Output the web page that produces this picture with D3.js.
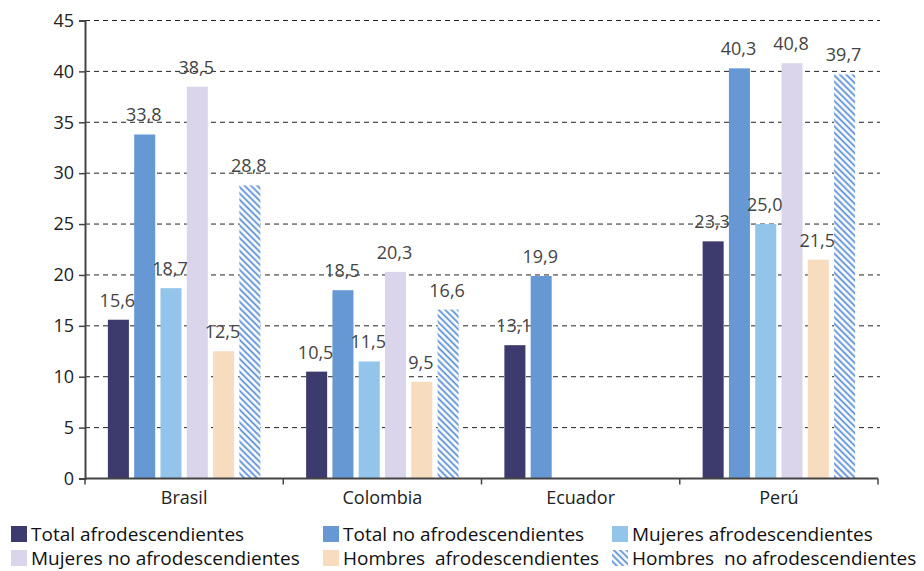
<!DOCTYPE html>
<html>
<head>
<meta charset="utf-8">
<script src="https://cdn.jsdelivr.net/npm/d3@7"></script>
<style>
  html, body { margin: 0; padding: 0; background: #fff; }
  svg text { font-family: "Open Sans", "Noto Sans", sans-serif; white-space: pre; }
</style>
</head>
<body>
<svg id="chart" width="924" height="571"></svg>
<script>
// Countries on the x axis
const countries = ["Brasil", "Colombia", "Ecuador", "Perú"];

// Series names (legend order)
const seriesNames = [
  "Total afrodescendientes",
  "Total no afrodescendientes",
  "Mujeres afrodescendientes",
  "Mujeres no afrodescendientes",
  "Hombres  afrodescendientes",
  "Hombres  no afrodescendientes"
];

// Values per series, one entry per country (null = no data)
const totalAfro      = [15.6, 10.5, 13.1, 23.3];
const totalNoAfro    = [33.8, 18.5, 19.9, 40.3];
const mujeresAfro    = [18.7, 11.5, null, 25.0];
const mujeresNoAfro  = [38.5, 20.3, null, 40.8];
const hombresAfro    = [12.5,  9.5, null, 21.5];
const hombresNoAfro  = [28.8, 16.6, null, 39.7];

const yTicks = [0, 5, 10, 15, 20, 25, 30, 35, 40, 45];

const seriesValues = [totalAfro, totalNoAfro, mujeresAfro, mujeresNoAfro, hombresAfro, hombresNoAfro];
const fills = ["#3d3a6e", "#6699d3", "#93c5eb", "#dad5ea", "#f7dcc0", "url(#hatch)"];

const svg = d3.select("#chart");

// Diagonal hatch for the last series
const defs = svg.append("defs");
const pat = defs.append("pattern")
  .attr("id", "hatch")
  .attr("patternUnits", "userSpaceOnUse")
  .attr("width", 4.5).attr("height", 4.5)
  .attr("patternTransform", "rotate(-45)");
pat.append("rect").attr("width", 4.5).attr("height", 4.5).attr("fill", "#fff");
pat.append("line").attr("x1", 1.2).attr("y1", 0).attr("x2", 1.2).attr("y2", 4.5)
  .attr("stroke", "#5b8fd6").attr("stroke-width", 1.8);

const plotLeft = 85, plotRight = 878, plotTop = 20.5, plotBottom = 478.5;

const x0 = d3.scaleBand().domain(countries).range([plotLeft, plotRight]).padding(0);
const x1 = d3.scaleBand().domain(d3.range(seriesNames.length))
  .range([0, x0.bandwidth()]).paddingInner(0.2).paddingOuter(0.87);
const y = d3.scaleLinear().domain([0, 45]).range([plotBottom, plotTop]);

// Dashed gridlines
svg.append("g").selectAll("line")
  .data(yTicks.filter(t => t > 0))
  .join("line")
  .attr("x1", plotLeft).attr("x2", plotRight + 2)
  .attr("y1", d => y(d)).attr("y2", d => y(d))
  .attr("stroke", "#222").attr("stroke-width", 1)
  .attr("stroke-dasharray", "5,4");

// Bars
const rows = [];
countries.forEach((c, ci) => {
  seriesValues.forEach((vals, si) => {
    if (vals[ci] != null) rows.push({ c, si, v: vals[ci] });
  });
});

svg.append("g").selectAll("rect")
  .data(rows)
  .join("rect")
  .attr("x", d => x0(d.c) + x1(d.si))
  .attr("y", d => y(d.v))
  .attr("width", x1.bandwidth())
  .attr("height", d => y(0) - y(d.v))
  .attr("fill", d => fills[d.si]);

// Value labels
const fmt = v => d3.format(".1f")(v).replace(".", ",");
svg.append("g").selectAll("text")
  .data(rows)
  .join("text")
  .attr("x", d => x0(d.c) + x1(d.si) + x1.bandwidth() / 2 - 1)
  .attr("y", d => y(d.v) - 13)
  .attr("text-anchor", "middle")
  .attr("font-size", 18)
  .attr("fill", "#444")
  .text(d => fmt(d.v));

// Y axis
const yAxis = d3.axisLeft(y).tickValues(yTicks).tickSize(6).tickPadding(5);
const gy = svg.append("g").attr("transform", `translate(${plotLeft},0)`).call(yAxis);
gy.select(".domain").attr("stroke", "#444").attr("stroke-width", 2);
gy.selectAll(".tick line").attr("stroke", "#444").attr("stroke-width", 1.5);
gy.selectAll(".tick text").attr("font-size", 18).attr("fill", "#222")
  .attr("font-family", "'Open Sans', sans-serif");

// X axis with boundary ticks
const gx = svg.append("g");
gx.append("line").attr("x1", plotLeft).attr("x2", plotRight)
  .attr("y1", plotBottom).attr("y2", plotBottom)
  .attr("stroke", "#444").attr("stroke-width", 2);
const bounds = countries.map(c => x0(c)).concat([plotRight]);
gx.selectAll("line.b").data(bounds).join("line").attr("class", "b")
  .attr("x1", d => d).attr("x2", d => d)
  .attr("y1", plotBottom).attr("y2", plotBottom + 6)
  .attr("stroke", "#444").attr("stroke-width", 1.5);
gx.selectAll("text").data(countries).join("text")
  .attr("x", d => x0(d) + x0.bandwidth() / 2)
  .attr("y", plotBottom + 25)
  .attr("text-anchor", "middle")
  .attr("font-size", 18)
  .attr("fill", "#222")
  .text(d => d);

// Legend
const legendCols = [11, 323, 612];
const legendRows = [526, 550];
const lg = svg.append("g").selectAll("g")
  .data(seriesNames)
  .join("g")
  .attr("transform", (d, i) => `translate(${legendCols[i % 3]},${legendRows[Math.floor(i / 3)]})`);
lg.append("rect").attr("x", 0).attr("y", 0).attr("width", 16).attr("height", 16)
  .attr("fill", (d, i) => fills[i]);
lg.append("text").attr("x", 20).attr("y", 15)
  .attr("font-size", 19).attr("fill", "#111")
  .text(d => d);
</script>
</body>
</html>
